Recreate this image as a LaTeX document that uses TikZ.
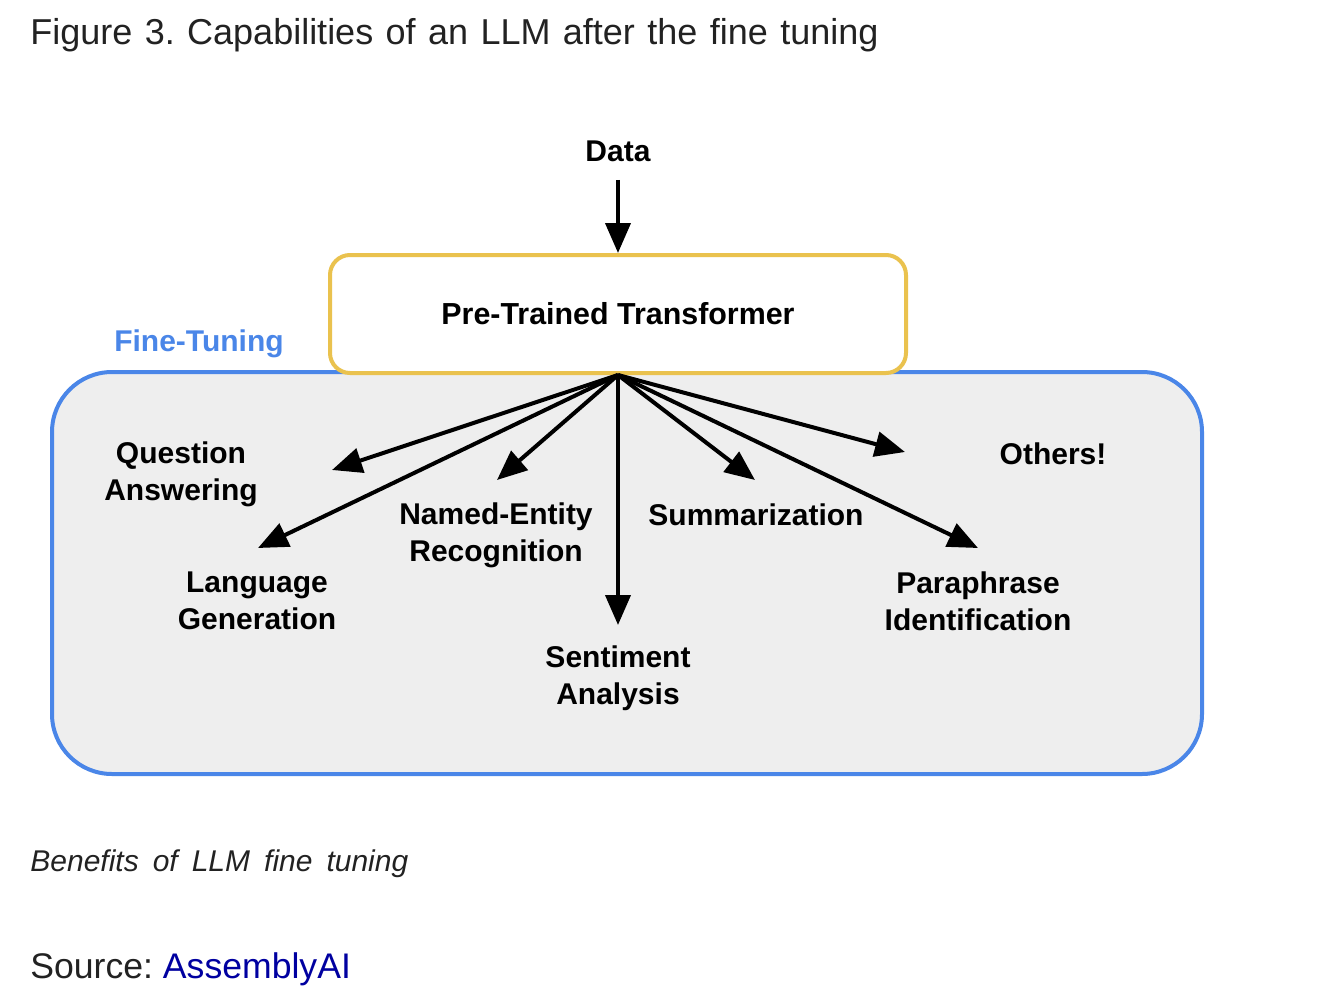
\documentclass[tikz,border=0pt]{standalone}
\usepackage{fontspec}
\setmainfont{Liberation Sans}
\usetikzlibrary{arrows.meta}
\definecolor{ftblue}{HTML}{4A86E8}
\definecolor{ptyellow}{HTML}{EAC24E}
\definecolor{ftgray}{HTML}{EEEEEE}
\definecolor{linkblue}{HTML}{0000A0}
\definecolor{captxt}{HTML}{222222}
\frenchspacing
\begin{document}
\begin{tikzpicture}[x=0.5pt,y=-0.5pt,
  lbl/.style={font=\fontsize{15}{18.5}\selectfont\bfseries, align=center, inner sep=0pt},
  arr/.style={line width=2pt, -{Triangle[length=15pt,width=12.5pt]}}]
\useasboundingbox (0,0) rectangle (1338,1006);
% title
\node[anchor=base west, inner sep=0pt, text=captxt, font=\fontsize{18}{22}\selectfont] (title) at (30,45) {\spaceskip=6.2pt\relax Figure 3. Capabilities of an LLM after the fine tuning};
% fine-tuning container
\node[draw=ftblue, fill=ftgray, line width=2pt, rounded corners=30pt, minimum width=575pt, minimum height=201pt, inner sep=0pt] (ft) at (627,573) {};
\node[lbl, text=ftblue] (ftlbl) at (199,344) {Fine-Tuning};
% pre-trained transformer
\node[draw=ptyellow, fill=white, line width=2pt, rounded corners=10pt, minimum width=288pt, minimum height=59pt, font=\fontsize{15.2}{18.5}\selectfont\bfseries] (ptt) at (618,314) {Pre-Trained Transformer};
% data
\node[lbl] (data) at (618,151) {Data};
\draw[arr, shorten <=9pt] (data.south) -- (ptt.north);
% labels
\node[lbl] (qa) at (181,474) {Question\\Answering};
\node[lbl] (lg) at (257,601) {Language\\Generation};
\node[lbl] (ner) at (496,535) {Named-Entity\\Recognition};
\node[lbl] (sa) at (618,678) {Sentiment\\Analysis};
\node[lbl] (sum) at (756,515) {Summarization};
\node[lbl] (par) at (978,601) {Paraphrase\\Identification};
\node[lbl] (oth) at (1053,454) {Others!};
% arrow tips
\coordinate (tqa) at (332,470);
\coordinate (tlg) at (258,548);
\coordinate (tner) at (497,480);
\coordinate (tsa) at (618,625);
\coordinate (tsum) at (755,480);
\coordinate (tpar) at (978,548);
\coordinate (toth) at (905,452);
\foreach \t in {tqa,tlg,tner,tsa,tsum,tpar,toth}
  \draw[arr] (ptt.south) -- (\t);
% caption
\node[anchor=base west, inner sep=0pt, text=captxt, font=\fontsize{15}{18}\selectfont\itshape] (cap) at (30,871) {\spaceskip=7pt\relax Benefits of LLM fine tuning};
\node[anchor=base west, inner sep=0pt, text=captxt, font=\fontsize{17.8}{22}\selectfont] (src) at (30,978) {Source: \textcolor{linkblue}{AssemblyAI}};
\end{tikzpicture}
\end{document}
